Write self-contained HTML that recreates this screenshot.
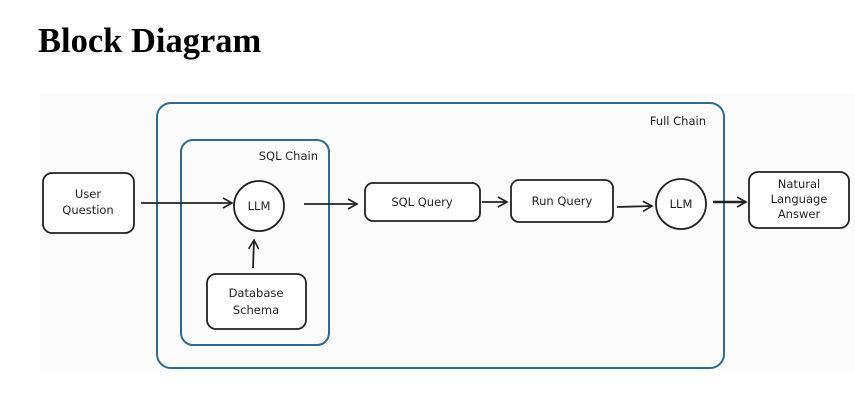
<!DOCTYPE html>
<html><head><style>
html,body{margin:0;padding:0;background:#fff;width:855px;height:400px;overflow:hidden}
h1{position:absolute;left:38px;top:22px;margin:0;font:bold 34.5px "Liberation Serif",serif;color:#000}
svg{position:absolute;left:0;top:0}
text{font-family:"Comic Sans MS","DejaVu Sans",sans-serif;font-size:11.5px;fill:#222}
</style></head><body>
<h1>Block Diagram</h1>
<svg width="855" height="400" viewBox="0 0 855 400">
<defs><marker id="a" markerWidth="12" markerHeight="12" refX="10" refY="6" orient="auto" markerUnits="userSpaceOnUse"><path d="M1,1 L10,6 L1,11" fill="none" stroke="#222" stroke-width="1.6"/></marker></defs>
<rect x="40" y="95" width="815" height="277" fill="#fbfbfb"/>
<rect x="157" y="103" width="567" height="265" rx="14" fill="none" stroke="#2f6a8f" stroke-width="2"/>
<rect x="181" y="140" width="148" height="205" rx="12" fill="none" stroke="#2f6a8f" stroke-width="2"/>
<text x="706" y="125" text-anchor="end">Full Chain</text>
<text x="318" y="160" text-anchor="end">SQL Chain</text>
<g fill="#fff" stroke="#222" stroke-width="1.8">
<rect x="43" y="173" width="91" height="60" rx="9"/>
<circle cx="259" cy="206" r="25"/>
<rect x="207" y="274" width="99" height="55" rx="9"/>
<rect x="365" y="183" width="115" height="38" rx="8"/>
<rect x="511" y="180" width="102" height="42" rx="8"/>
<circle cx="681" cy="204" r="25"/>
<rect x="749" y="172" width="100" height="56" rx="9"/>
</g>
<g stroke="#222" stroke-width="1.8" fill="none" marker-end="url(#a)">
<line x1="141" y1="203" x2="232" y2="203"/>
<line x1="304" y1="204" x2="357" y2="204"/>
<line x1="482" y1="202" x2="507" y2="202"/>
<line x1="617" y1="207" x2="652" y2="206"/>
<line x1="713" y1="202" x2="746" y2="202" stroke-width="2.6"/>
<line x1="253" y1="268" x2="254" y2="240"/>
</g>
<g text-anchor="middle">
<text x="88" y="198">User</text><text x="88" y="214">Question</text>
<text x="259" y="210">LLM</text>
<text x="256" y="297">Database</text><text x="256" y="314">Schema</text>
<text x="422" y="206">SQL Query</text>
<text x="562" y="205">Run Query</text>
<text x="681" y="208">LLM</text>
<text x="799" y="188">Natural</text><text x="799" y="203">Language</text><text x="799" y="218">Answer</text>
</g>
</svg>
</body></html>
